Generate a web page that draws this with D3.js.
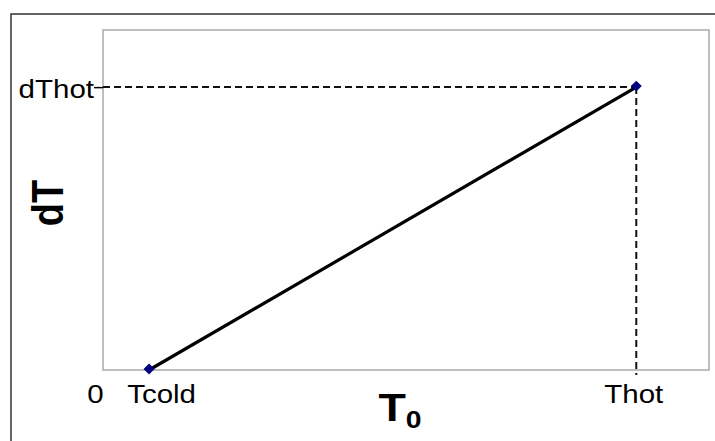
<!DOCTYPE html>
<html>
<head>
<meta charset="utf-8">
<script src="https://cdn.jsdelivr.net/npm/d3@7"></script>
<style>
  html, body { margin: 0; padding: 0; background: #fff; }
  svg { display: block; font-family: "Liberation Sans", Arial, sans-serif; }
</style>
</head>
<body>
<div id="chart"></div>
<script>
// chart data (normalised units)
const pointT0 = [0.076, 0.880];      // Tcold, Thot
const pointDT = [0, 0.832];          // 0, dThot
const xTickValues = [0, 0.076, 0.880];
const xTickLabels = ['0', 'Tcold', 'Thot'];
const yTickValues = [0.832];
const yTickLabels = ['dThot'];

const width = 715, height = 441;
const stretch = 1.18; // the picture's text is a little wide

let svg = d3.select('#chart').append('svg')
    .attr('width', width)
    .attr('height', height);

// outer frame (only top and left edges show)
svg.append('path')
    .attr('d', 'M11,441V14H715')
    .attr('fill', 'none')
    .attr('stroke', '#333')
    .attr('stroke-width', 1.5);

let x = d3.scaleLinear().domain([0, 1]).range([103, 709]);
let y = d3.scaleLinear().domain([0, 1]).range([370, 30]);

// plot box
svg.append('rect')
    .attr('x', x(0)).attr('y', y(1))
    .attr('width', x(1) - x(0)).attr('height', y(0) - y(1))
    .attr('fill', 'none')
    .attr('stroke', '#aaa')
    .attr('stroke-width', 1.5);

let points = pointT0.map((d, i) => ({ t0: d, dt: pointDT[i] }));
let hotPoint = points[1];

// dashed guides to the hot point
svg.append('line')
    .attr('x1', x(0)).attr('x2', x(hotPoint.t0))
    .attr('y1', y(hotPoint.dt)).attr('y2', y(hotPoint.dt))
    .attr('stroke', '#111').attr('stroke-width', 2)
    .attr('stroke-dasharray', '7,4');
svg.append('line')
    .attr('x1', x(hotPoint.t0)).attr('x2', x(hotPoint.t0))
    .attr('y1', y(hotPoint.dt)).attr('y2', y(0) + 5)
    .attr('stroke', '#111').attr('stroke-width', 2)
    .attr('stroke-dasharray', '7,4');

// x axis labels
let xAxis = svg.append('g')
    .attr('transform', `translate(0,${y(0)})`)
    .call(d3.axisBottom(x).tickValues(xTickValues)
        .tickFormat((d, i) => xTickLabels[i]).tickSize(0));
xAxis.select('.domain').remove();
// small nudges so the labels sit where they do in the picture
const xLabelShift = [-8, 12, -3];
xAxis.selectAll('.tick text')
    .attr('y', 0).attr('dy', 0)
    .attr('font-size', 25)
    .attr('font-family', '"Liberation Sans", Arial, sans-serif')
    .attr('fill', '#000')
    .attr('transform', (d, i) => `translate(${xLabelShift[i]},33) scale(${stretch},1)`);

// y axis label with its small tick
let yAxis = svg.append('g')
    .attr('transform', `translate(${x(0)},0)`)
    .call(d3.axisLeft(y).tickValues(yTickValues)
        .tickFormat((d, i) => yTickLabels[i]).tickSize(9));
yAxis.select('.domain').remove();
yAxis.selectAll('.tick line').attr('stroke', '#000').attr('stroke-width', 1.5);
yAxis.selectAll('.tick text')
    .attr('x', -9 / stretch).attr('dy', '0.4em')
    .attr('font-size', 25)
    .attr('font-family', '"Liberation Sans", Arial, sans-serif')
    .attr('fill', '#000')
    .attr('transform', `scale(${stretch},1)`);

// the line
svg.append('path')
    .datum(points)
    .attr('fill', 'none')
    .attr('stroke', '#000')
    .attr('stroke-width', 3.2)
    .attr('d', d3.line().x(d => x(d.t0)).y(d => y(d.dt)));

// diamond markers
svg.selectAll('.marker')
    .data(points)
    .enter().append('path')
    .attr('class', 'marker')
    .attr('d', d3.symbol().type(d3.symbolSquare).size(60))
    .attr('fill', '#000080')
    .attr('transform', d => `translate(${x(d.t0)},${y(d.dt) - 1}) rotate(45)`);

// axis titles
svg.append('text')
    .attr('transform', `translate(63,203) rotate(-90) scale(1,${stretch})`)
    .attr('text-anchor', 'middle')
    .attr('font-size', 38)
    .attr('font-weight', 'bold')
    .text('dT');

let xTitle = svg.append('text')
    .attr('transform', `translate(400,421) scale(${stretch},1)`)
    .attr('text-anchor', 'middle')
    .attr('font-size', 38)
    .attr('font-weight', 'bold')
    .text('T');
xTitle.append('tspan')
    .attr('font-size', 24)
    .attr('dy', 7)
    .text('0');
</script>
</body>
</html>
